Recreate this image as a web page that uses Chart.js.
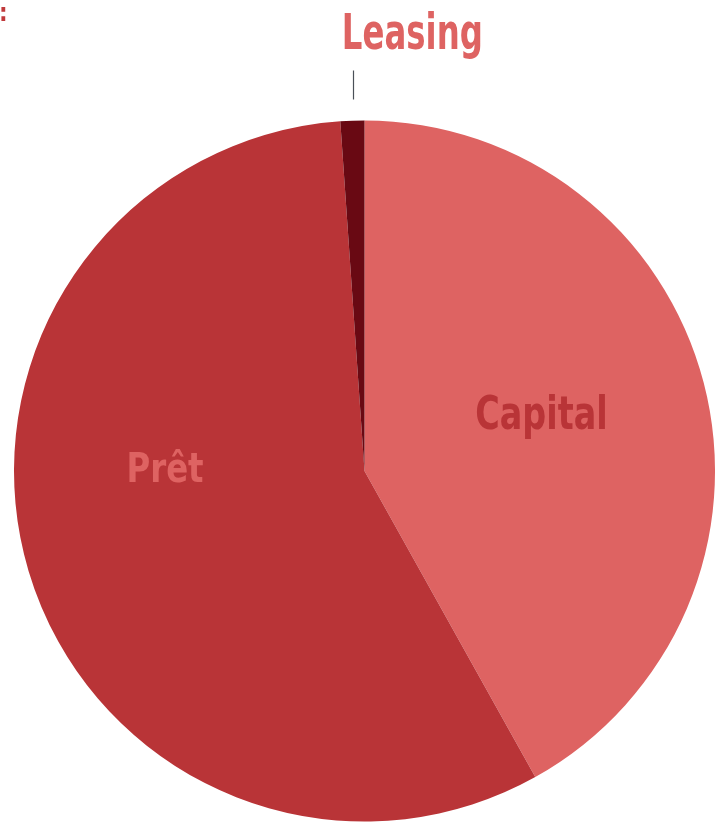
<!DOCTYPE html>
<html>
<head>
<meta charset="utf-8">
<script src="https://cdn.jsdelivr.net/npm/chart.js@4.4.1/dist/chart.umd.min.js"></script>
<style>
  html, body { margin: 0; padding: 0; background: #fff; overflow: hidden; }
</style>
</head>
<body>
<canvas id="pieChart" width="715" height="822"></canvas>
<script>
const labels = ["Capital", "Prêt", "Leasing"];
const shares = [41.9, 57.0, 1.1];
const sliceColours = ["#de6362", "#b93437", "#690913"];
const labelColours = ["#b93437", "#de6362", "#de6362"];

const FONT = '"DejaVu Sans Condensed", "DejaVu Sans", sans-serif';

// where each label sits, in polar terms around the pie centre
const labelPlace = [
  { r: 0.519, da: 1.2, size: 47, squeeze: 0.79, outside: false },
  { r: 0.570, da: 13.4, size: 40, squeeze: 0.9, outside: false },
  { r: 1.0, da: 0, size: 50, squeeze: 0.72, outside: true },
];

function setFont(ctx, size) {
  ctx.font = "bold " + size + "px " + FONT;
  if ("fontStretch" in ctx) ctx.fontStretch = "condensed";
}

function squeezedText(ctx, text, x, y, squeeze) {
  ctx.save();
  ctx.translate(x, y);
  ctx.scale(squeeze, 1);
  ctx.fillText(text, 0, 0);
  ctx.restore();
}

const sliceLabels = {
  id: "sliceLabels",
  afterDraw(chart) {
    const ctx = chart.ctx;
    const arcs = chart.getDatasetMeta(0).data;
    ctx.save();
    ctx.textAlign = "center";
    ctx.textBaseline = "alphabetic";
    arcs.forEach((arc, i) => {
      const { x, y, startAngle, endAngle, outerRadius } = arc.getProps(
        ["x", "y", "startAngle", "endAngle", "outerRadius"],
        true
      );
      const place = labelPlace[i];
      const mid = (startAngle + endAngle) / 2 + (place.da * Math.PI) / 180;
      setFont(ctx, place.size);
      ctx.fillStyle = labelColours[i];
      if (!place.outside) {
        const px = x + Math.cos(mid) * outerRadius * place.r;
        const py = y + Math.sin(mid) * outerRadius * place.r;
        squeezedText(ctx, labels[i], px, py, place.squeeze);
      } else {
        const lx = x + Math.cos(mid) * outerRadius;
        const top = y - outerRadius;
        ctx.strokeStyle = "#4a5058";
        ctx.lineWidth = 1.2;
        ctx.beginPath();
        ctx.moveTo(Math.round(lx) + 1.5, top - 21);
        ctx.lineTo(Math.round(lx) + 1.5, top - 50);
        ctx.stroke();
        squeezedText(ctx, labels[i], lx + 60, top - 72, place.squeeze);
      }
    });
    // stray colon left over from a cut-off title
    ctx.fillStyle = "#c0393b";
    setFont(ctx, 24);
    ctx.textAlign = "left";
    ctx.fillText(":", -1, 21);
    ctx.restore();
  },
};

new Chart(document.getElementById("pieChart"), {
  type: "pie",
  data: {
    labels: labels,
    datasets: [
      {
        data: shares,
        backgroundColor: sliceColours,
        borderWidth: 0,
      },
    ],
  },
  options: {
    responsive: false,
    animation: false,
    layout: { padding: { top: 120, left: 14, right: 0, bottom: 0 } },
    plugins: {
      legend: { display: false },
      tooltip: { enabled: false },
    },
  },
  plugins: [sliceLabels],
});
</script>
</body>
</html>
